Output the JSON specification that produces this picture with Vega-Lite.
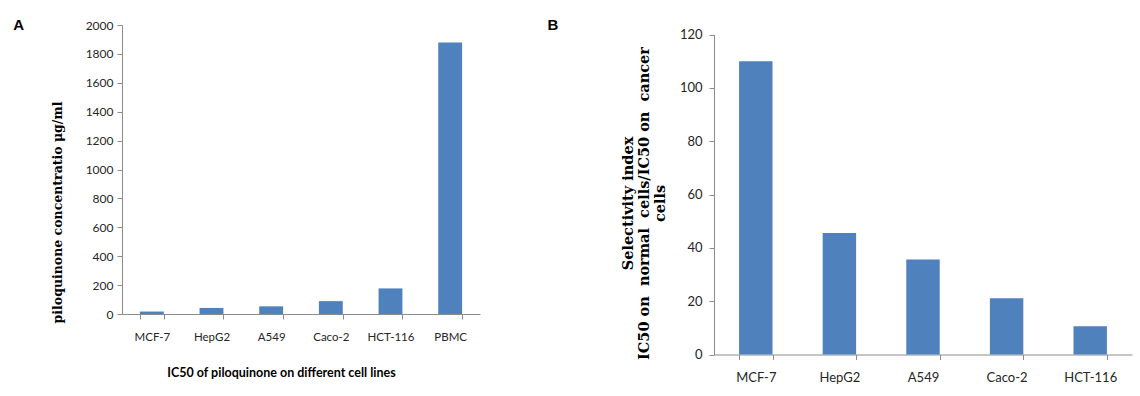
{
  "$schema": "https://vega.github.io/schema/vega-lite/v6.json",
  "background": "white",
  "padding": {"left": 13, "top": 17, "right": 5, "bottom": 5},
  "datasets": {
    "ic50": [
      {"cell": "MCF-7", "value": 17},
      {"cell": "HepG2", "value": 42},
      {"cell": "A549", "value": 53},
      {"cell": "Caco-2", "value": 89},
      {"cell": "HCT-116", "value": 177},
      {"cell": "PBMC", "value": 1879}
    ],
    "si": [
      {"cell": "MCF-7", "value": 110},
      {"cell": "HepG2", "value": 45.6},
      {"cell": "A549", "value": 35.6},
      {"cell": "Caco-2", "value": 21.1},
      {"cell": "HCT-116", "value": 10.6}
    ]
  },
  "config": {
    "view": {"stroke": null},
    "axis": {
      "grid": false,
      "domainColor": "#8c8c8c",
      "tickColor": "#8c8c8c",
      "labelColor": "#262626",
      "labelFont": "Lato",
      "tickSize": 5,
      "titleColor": "#000000"
    }
  },
  "spacing": 67,
  "hconcat": [
    {
      "width": 358,
      "height": 289,
      "title": {"text": "A", "anchor": "start", "frame": "bounds", "font": "Liberation Sans", "fontWeight": "bold", "fontSize": 15, "dx": -38, "offset": -14, "color": "#000000"},
      "data": {"name": "ic50"},
      "mark": {"type": "bar", "color": "#4F81BD"},
      "encoding": {
        "x": {
          "field": "cell", "type": "nominal", "sort": null,
          "scale": {"paddingInner": 0.6, "paddingOuter": 0.3},
          "axis": {"labelAngle": 0, "tickBand": "extent", "labelFontSize": 11.5, "labelPadding": 12,
                   "title": "IC50 of piloquinone on different cell lines", "titleFont": "Lato", "titleFontSize": 12.5, "titleFontWeight": "bold", "titlePadding": 24, "titleX": 159}
        },
        "y": {
          "field": "value", "type": "quantitative",
          "scale": {"domain": [0, 2000]},
          "axis": {"values": [0, 200, 400, 600, 800, 1000, 1200, 1400, 1600, 1800, 2000], "format": "d", "labelFontSize": 12, "labelPadding": 4,
                   "title": "piloquinone concentratio  μg/ml", "titleFont": "DejaVu Serif", "titleFontSize": 12.5, "titleFontWeight": "bold", "titlePadding": 21, "titleY": 187}
        }
      }
    },
    {
      "width": 418,
      "height": 329.5,
      "title": {"text": "B", "anchor": "start", "frame": "bounds", "font": "Liberation Sans", "fontWeight": "bold", "fontSize": 15, "dx": -73, "offset": -7.5, "color": "#000000"},
      "data": {"name": "si"},
      "mark": {"type": "bar", "color": "#4F81BD"},
      "encoding": {
        "x": {
          "field": "cell", "type": "nominal", "sort": null,
          "scale": {"paddingInner": 0.6, "paddingOuter": 0.3},
          "axis": {"labelAngle": 0, "tickBand": "extent", "labelFontSize": 13, "labelPadding": 12, "title": null}
        },
        "y": {
          "field": "value", "type": "quantitative",
          "scale": {"domain": [0, 120], "range": [329.5, 9.5]},
          "axis": {"values": [0, 20, 40, 60, 80, 100, 120], "format": "d", "labelFontSize": 13, "labelPadding": 7,
                   "title": ["Selectivity index", "IC50 on\u00a0\u00a0normal\u00a0\u00a0cells/IC50 on\u00a0\u00a0cancer", "cells"], "titleFont": "DejaVu Serif", "titleFontSize": 14.5, "titleFontWeight": "bold", "titleLineHeight": 16, "titlePadding": 12, "titleY": 178}
        }
      }
    }
  ]
}
